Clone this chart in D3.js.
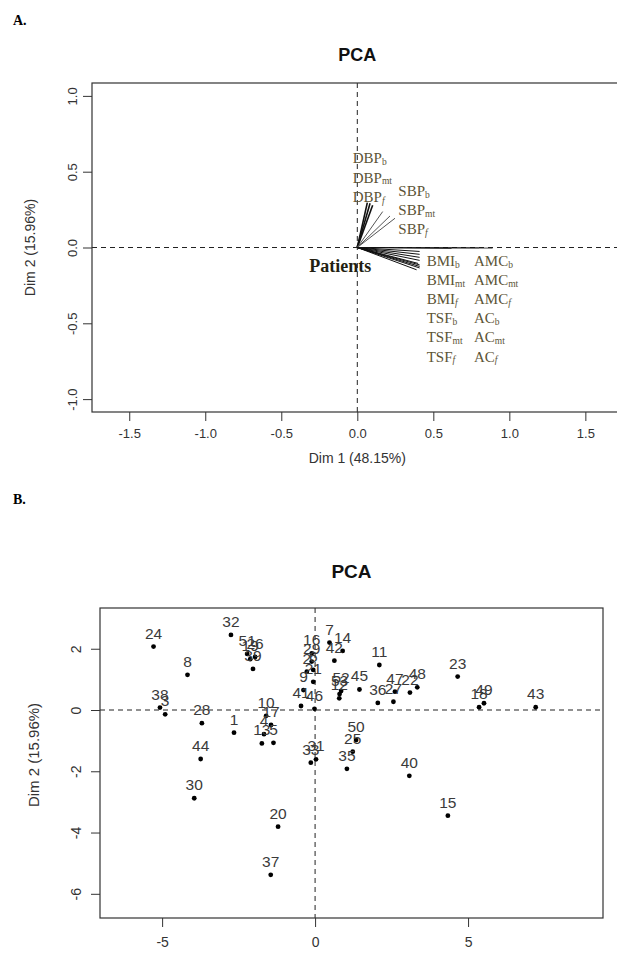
<!DOCTYPE html>
<html>
<head>
<meta charset="utf-8">
<script src="https://cdn.jsdelivr.net/npm/d3@7"></script>
<style>
  body { margin: 0; background: #fff; }
  svg { display: block; }
</style>
</head>
<body>
<svg width="617" height="956"></svg>
<script>
// ---- panel A: variables factor map (loadings)
var varNames = ["DBP_b", "DBP_mt", "DBP_f", "SBP_b", "SBP_mt", "SBP_f",
  "BMI_b", "BMI_mt", "BMI_f", "TSF_b", "TSF_mt", "TSF_f",
  "AMC_b", "AMC_mt", "AMC_f", "AC_b", "AC_mt", "AC_f"];
var varDim1 = [0.066, 0.101, 0.084, 0.167, 0.215, 0.248,
  0.41, 0.41, 0.41, 0.41, 0.40, 0.39,
  0.41, 0.41, 0.41, 0.89, 0.80, 0.62];
var varDim2 = [0.296, 0.279, 0.292, 0.237, 0.208, 0.193,
  -0.026, -0.045, -0.065, -0.085, -0.105, -0.147,
  -0.125, -0.135, -0.115, -0.004, -0.002, -0.006];
var ticksA = [-1.5, -1.0, -0.5, 0.0, 0.5, 1.0, 1.5];
var yTicksA = [-1.0, -0.5, 0.0, 0.5, 1.0];

// ---- panel B: individuals factor map
var patientIds = ["1", "3", "4", "5", "6", "7", "8", "9", "10", "11", "12", "13", "14", "15",
  "16", "17", "18", "19", "20", "21", "22", "23", "24", "25", "26", "27", "28", "29",
  "30", "31", "32", "33", "35", "36", "37", "38", "39", "40", "41", "42", "43", "44",
  "45", "46", "47", "48", "49", "50", "51", "52", "53", "2"];
var patDim1 = [-2.65, -4.90, -1.67, -1.36, -0.06, 0.47, -4.17, -0.38, -1.60, 2.10, 0.79, -1.74, 0.90, 4.34,
  -0.11, -1.44, 5.36, -2.12, -1.21, -0.06, 3.10, 4.66, -5.28, 1.23, -1.96, 2.56, -3.70, -0.11,
  -3.95, 0.03, -2.75, -0.14, 1.04, 2.05, -1.45, -5.07, -2.03, 3.08, -0.46, 0.63, 7.21, -3.74,
  1.45, -0.02, 2.61, 3.34, 5.52, 1.34, -2.22, 0.85, 0.80, -0.27];
var patDim2 = [-0.74, -0.14, -0.79, -1.07, 1.31, 2.20, 1.15, 0.65, -0.19, 1.47, 0.38, -1.09, 1.93, -3.45,
  1.85, -0.49, 0.09, 1.66, -3.81, 0.92, 0.57, 1.09, 2.07, -1.36, 1.73, 0.27, -0.43, 1.58,
  -2.88, -1.61, 2.45, -1.72, -1.92, 0.23, -5.38, 0.08, 1.34, -2.15, 0.13, 1.61, 0.09, -1.60,
  0.67, 0.04, 0.60, 0.74, 0.22, -0.98, 1.83, 0.62, 0.52, 1.25];
var ticksB = [-5, 0, 5];
var yTicksB = [-6, -4, -2, 0, 2];

var svg = d3.select("svg");
var sans = "'Liberation Sans', Arial, sans-serif";
var serif = "'Liberation Serif', 'Times New Roman', serif";
var axisColor = "#333";

// R-like box, dashed zero lines and outside ticks
function frame(x, y, xt, yt, fmt, opt) {
  var g = svg.append("g");
  var x0 = x.range()[0], x1 = x.range()[1], y0 = y.range()[1], y1 = y.range()[0];

  g.append("line").attr("x1", x(0)).attr("x2", x(0)).attr("y1", y0).attr("y2", y1)
    .attr("stroke", "#222").attr("stroke-dasharray", "5,4");
  g.append("line").attr("x1", x0).attr("x2", x1).attr("y1", y(0)).attr("y2", y(0))
    .attr("stroke", "#222").attr("stroke-dasharray", "5,4");

  g.append("rect").attr("x", x0).attr("y", y0).attr("width", x1 - x0).attr("height", y1 - y0)
    .attr("fill", "none").attr("stroke", axisColor).attr("stroke-width", 1.2);

  var ax = g.append("g").attr("transform", "translate(0," + y1 + ")")
    .call(d3.axisBottom(x).tickValues(xt).tickFormat(fmt).tickSize(9).tickPadding(opt.pad));
  ax.select(".domain").remove();
  ax.attr("color", axisColor).attr("font-size", opt.fs).attr("font-family", sans);

  var ay = g.append("g").attr("transform", "translate(" + x0 + ",0)")
    .call(d3.axisLeft(y).tickValues(yt).tickFormat(fmt).tickSize(9));
  ay.select(".domain").remove();
  ay.attr("color", axisColor).attr("font-size", opt.fs).attr("font-family", sans);
  ay.selectAll("text")
    .attr("x", null).attr("dy", "0.35em")
    .attr("text-anchor", "middle")
    .attr("transform", "translate(" + (-opt.ylab) + ",0) rotate(-90)");

  g.append("text").attr("x", (x0 + Math.min(x1, 622.6)) / 2).attr("y", y0 - opt.titleGap)
    .attr("text-anchor", "middle").attr("font-family", sans).attr("font-weight", "bold")
    .attr("font-size", opt.titleFs).attr("fill", "#111").text("PCA");

  g.append("text")
    .attr("transform", "translate(" + (x0 - opt.ytitle) + "," + opt.ymid + ") rotate(-90)")
    .attr("text-anchor", "middle").attr("dy", "0.35em")
    .attr("font-family", sans).attr("font-size", opt.fs + 1).attr("fill", "#333")
    .text("Dim 2 (15.96%)");
  return g;
}

// ---------------- panel A
var xA = d3.scaleLinear().domain([-1.745, 1.745]).range([92, 622.6]);
var yA = d3.scaleLinear().domain([-1.085, 1.085]).range([412, 83]);

svg.append("text").attr("x", 13).attr("y", 25).attr("font-family", serif)
  .attr("font-weight", "bold").attr("font-size", 14).text("A.");

frame(xA, yA, ticksA, yTicksA, function(d) { return d.toFixed(1); },
  {pad: 8, fs: 13, ylab: 20, titleFs: 18, titleGap: 22, ytitle: 62, ymid: 247.5});

svg.append("text").attr("x", 357.3).attr("y", 463).attr("text-anchor", "middle")
  .attr("font-family", sans).attr("font-size", 14).attr("fill", "#333").text("Dim 1 (48.15%)");

var arrows = svg.append("g");
arrows.selectAll("line").data(varNames).enter().append("line")
  .attr("x1", xA(0)).attr("y1", yA(0))
  .attr("x2", function(d, i) { return xA(varDim1[i]); })
  .attr("y2", function(d, i) { return yA(varDim2[i]); })
  .attr("stroke", function(d, i) { return i >= 3 && i < 6 ? "#555" : "#111"; })
  .attr("stroke-width", function(d, i) { return i < 3 ? 1.6 : (i >= 15 ? 0.8 : 1); });

function subLabel(x, y, name) {
  var p = name.split("_");
  var t = svg.append("text").attr("x", x).attr("y", y)
    .attr("font-family", serif).attr("font-size", 15).attr("fill", "#5c5436");
  t.append("tspan").text(p[0]);
  t.append("tspan").attr("font-size", 9.5).attr("dy", 1.5)
    .attr("font-style", p[1] == "f" ? "italic" : null).text(p[1]);
}

varNames.forEach(function(name, i) {
  if (i < 3) subLabel(352.7, 163 + i * 19.5, name);
  else if (i < 6) subLabel(398.3, 196 + (i - 3) * 19, name);
  else if (i < 12) subLabel(426.7, 266 + (i - 6) * 19.1, name);
  else subLabel(474, 266 + (i - 12) * 19.1, name);
});

svg.append("text").attr("x", 309.3).attr("y", 272).attr("font-family", serif)
  .attr("font-weight", "bold").attr("font-size", 18).attr("fill", "#231f12").text("Patients");

// ---------------- panel B
var xB = d3.scaleLinear().domain([-7.03, 9.41]).range([100, 603]);
var yB = d3.scaleLinear().domain([-6.79, 3.33]).range([918, 608]);

svg.append("text").attr("x", 13).attr("y", 504).attr("font-family", serif)
  .attr("font-weight", "bold").attr("font-size", 14).text("B.");

frame(xB, yB, ticksB, yTicksB, function(d) { return String(d); },
  {pad: 10, fs: 14, ylab: 24, titleFs: 19, titleGap: 30, ytitle: 66, ymid: 755});

var pts = svg.append("g");
pts.selectAll("circle").data(patientIds).enter().append("circle")
  .attr("cx", function(d, i) { return xB(patDim1[i]); })
  .attr("cy", function(d, i) { return yB(patDim2[i]); })
  .attr("r", 2.4).attr("fill", "#000");
pts.selectAll("text").data(patientIds).enter().append("text")
  .attr("x", function(d, i) { return xB(patDim1[i]); })
  .attr("y", function(d, i) { return yB(patDim2[i]) - 8; })
  .attr("text-anchor", "middle").attr("font-family", sans).attr("font-size", 15.5)
  .attr("fill", "#3a3a3a").text(function(d) { return d; });
</script>
</body>
</html>
